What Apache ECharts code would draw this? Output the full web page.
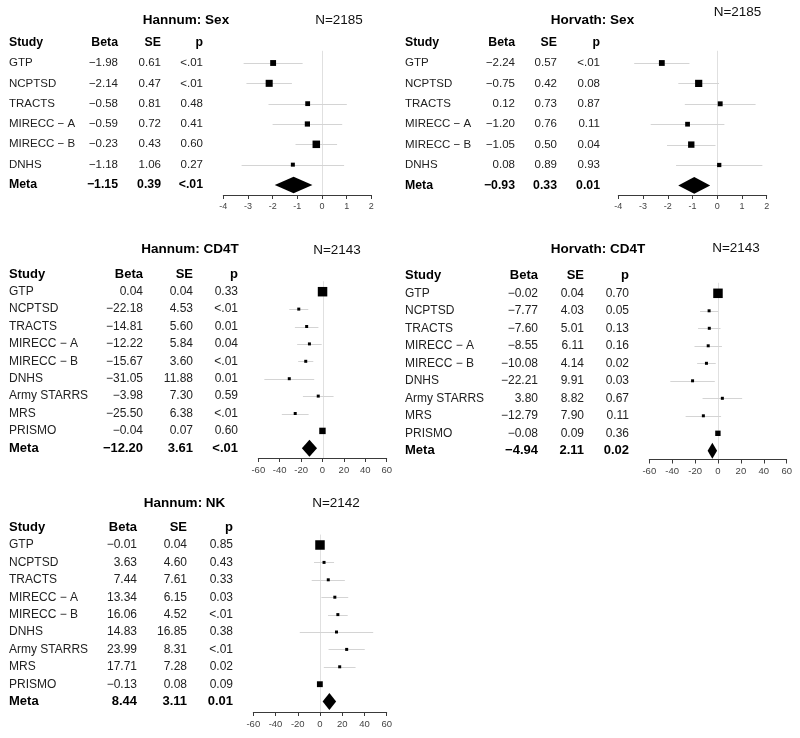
<!DOCTYPE html>
<html><head><meta charset="utf-8">
<script src="https://cdn.jsdelivr.net/npm/echarts@6/dist/echarts.min.js"></script>
<style>html,body{margin:0;padding:0;background:#fff}#c{width:800px;height:738px}</style>
</head><body><div id="c"></div>
<script>
// ---------- data ----------
const sexStudies = ['GTP', 'NCPTSD', 'TRACTS', 'MIRECC − A', 'MIRECC − B', 'DNHS'];
const cellStudies = ['GTP', 'NCPTSD', 'TRACTS', 'MIRECC − A', 'MIRECC − B', 'DNHS', 'Army STARRS', 'MRS', 'PRISMO'];

const sexTicks = [-4, -3, -2, -1, 0, 1, 2];
const cellTicks = [-60, -40, -20, 0, 20, 40, 60];

const hannumSexBeta = [-1.98, -2.14, -0.58, -0.59, -0.23, -1.18];
const hannumSexSE = [0.61, 0.47, 0.81, 0.72, 0.43, 1.06];
const hannumSexP = ['<.01', '<.01', '0.48', '0.41', '0.60', '0.27'];
const hannumSexMeta = [-1.15, 0.39, '<.01'];

const horvathSexBeta = [-2.24, -0.75, 0.12, -1.20, -1.05, 0.08];
const horvathSexSE = [0.57, 0.42, 0.73, 0.76, 0.50, 0.89];
const horvathSexP = ['<.01', '0.08', '0.87', '0.11', '0.04', '0.93'];
const horvathSexMeta = [-0.93, 0.33, '0.01'];

const hannumCD4TBeta = [0.04, -22.18, -14.81, -12.22, -15.67, -31.05, -3.98, -25.50, -0.04];
const hannumCD4TSE = [0.04, 4.53, 5.60, 5.84, 3.60, 11.88, 7.30, 6.38, 0.07];
const hannumCD4TP = ['0.33', '<.01', '0.01', '0.04', '<.01', '0.01', '0.59', '<.01', '0.60'];
const hannumCD4TMeta = [-12.20, 3.61, '<.01'];

const horvathCD4TBeta = [-0.02, -7.77, -7.60, -8.55, -10.08, -22.21, 3.80, -12.79, -0.08];
const horvathCD4TSE = [0.04, 4.03, 5.01, 6.11, 4.14, 9.91, 8.82, 7.90, 0.09];
const horvathCD4TP = ['0.70', '0.05', '0.13', '0.16', '0.02', '0.03', '0.67', '0.11', '0.36'];
const horvathCD4TMeta = [-4.94, 2.11, '0.02'];

const hannumNKBeta = [-0.01, 3.63, 7.44, 13.34, 16.06, 14.83, 23.99, 17.71, -0.13];
const hannumNKSE = [0.04, 4.60, 7.61, 6.15, 4.52, 16.85, 8.31, 7.28, 0.08];
const hannumNKP = ['0.85', '0.43', '0.33', '0.03', '<.01', '0.38', '<.01', '0.02', '0.09'];
const hannumNKMeta = [8.44, 3.11, '0.01'];

const panels = [
  {title: 'Hannum: Sex', n: 'N=2185', studies: sexStudies, beta: hannumSexBeta, se: hannumSexSE, p: hannumSexP, meta: hannumSexMeta, ticks: sexTicks},
  {title: 'Horvath: Sex', n: 'N=2185', studies: sexStudies, beta: horvathSexBeta, se: horvathSexSE, p: horvathSexP, meta: horvathSexMeta, ticks: sexTicks},
  {title: 'Hannum: CD4T', n: 'N=2143', studies: cellStudies, beta: hannumCD4TBeta, se: hannumCD4TSE, p: hannumCD4TP, meta: hannumCD4TMeta, ticks: cellTicks},
  {title: 'Horvath: CD4T', n: 'N=2143', studies: cellStudies, beta: horvathCD4TBeta, se: horvathCD4TSE, p: horvathCD4TP, meta: horvathCD4TMeta, ticks: cellTicks},
  {title: 'Hannum: NK', n: 'N=2142', studies: cellStudies, beta: hannumNKBeta, se: hannumNKSE, p: hannumNKP, meta: hannumNKMeta, ticks: cellTicks}
];

// ---------- layout (pixels) ----------
const layouts = [
  {studyX: 9, betaR: 118, seR: 161, pR: 203, row1: 63, step: 20.33, axL: 223.3, axR: 371.3, axY: 195, tX: 186, tY: 20, nX: 339, nY: 20, fs: 11.5, fb: 12.3, tickFs: 9, maxS: 7.5, dh: 8.3, lm: 7.5},
  {studyX: 405, betaR: 515, seR: 557, pR: 600, row1: 63, step: 20.4, axL: 618.3, axR: 766.7, axY: 195, tX: 592.5, tY: 20, nX: 737.5, nY: 12, fs: 11.5, fb: 12.3, tickFs: 9, maxS: 7.2, dh: 8.3, lm: 7.5},
  {studyX: 9, betaR: 143, seR: 193, pR: 238, row1: 291.7, step: 17.4, axL: 258.3, axR: 386.7, axY: 458, tX: 190, tY: 249, nX: 337, nY: 250, fs: 12, fb: 13, tickFs: 9.5, maxS: 9.5, dh: 8.5, lm: 7},
  {studyX: 405, betaR: 538, seR: 584, pR: 629, row1: 293.3, step: 17.5, axL: 649.3, axR: 786.7, axY: 459.5, tX: 598, tY: 249, nX: 736, nY: 248, fs: 12, fb: 13, tickFs: 9.5, maxS: 9.5, dh: 8, lm: 7},
  {studyX: 9, betaR: 137, seR: 187, pR: 233, row1: 545, step: 17.4, axL: 253.3, axR: 386.7, axY: 712, tX: 184.5, tY: 503, nX: 336, nY: 503, fs: 12, fb: 13, tickFs: 9.5, maxS: 9.5, dh: 8.5, lm: 7}
];

const FONT = '"Liberation Sans", Arial, Helvetica, sans-serif';
const fmt = v => (v < 0 ? '−' : '') + Math.abs(v).toFixed(2);

const chart = echarts.init(document.getElementById('c'), null, {renderer: 'canvas'});

const grid = [], xAxis = [], yAxis = [], series = [];
panels.forEach((P, i) => {
  const L = layouts[i];
  const top = L.row1 - 0.6 * L.step;
  const yMin = 1 + (top - L.row1) / L.step;
  const yMax = 1 + (L.axY - L.row1) / L.step;
  grid.push({left: L.axL, width: L.axR - L.axL, top: top, height: L.axY - top, containLabel: false});
  xAxis.push({
    gridIndex: i, type: 'value', min: P.ticks[0], max: P.ticks[P.ticks.length - 1],
    interval: P.ticks[1] - P.ticks[0], position: 'bottom',
    axisLine: {show: true, onZero: false, lineStyle: {color: '#3a3a3a', width: 1}},
    axisTick: {show: true, length: 4, lineStyle: {color: '#3a3a3a', width: 1}},
    axisLabel: {fontSize: L.tickFs, color: '#444', margin: L.lm, fontFamily: FONT},
    splitLine: {show: false}
  });
  yAxis.push({gridIndex: i, type: 'value', inverse: true, min: yMin, max: yMax, show: false});

  const minSE = Math.min.apply(null, P.se);
  const ciData = P.beta.map((b, k) => [b - 1.96 * P.se[k], b + 1.96 * P.se[k], k + 1]);
  const ptData = P.beta.map((b, k) => [b, k + 1, P.se[k]]);
  const metaRow = P.studies.length + 1;
  const metaData = [[P.meta[0] - 1.96 * P.meta[1], P.meta[0], P.meta[0] + 1.96 * P.meta[1], metaRow]];

  // zero reference line (drawn under everything)
  series.push({
    type: 'custom', xAxisIndex: i, yAxisIndex: i, z: 0, silent: true,
    encode: {x: 0, y: [1, 2]},
    data: [[0, yMin, yMax]],
    renderItem: (params, api) => {
      const a = api.coord([api.value(0), api.value(1)]);
      const b = api.coord([api.value(0), api.value(2)]);
      const x = Math.round(a[0]) + 0.5;
      return {type: 'line', shape: {x1: x, y1: a[1], x2: x, y2: b[1]}, style: {stroke: '#e0e0e0', lineWidth: 1}};
    }
  });
  // confidence intervals
  series.push({
    type: 'custom', xAxisIndex: i, yAxisIndex: i, z: 1, silent: true,
    encode: {x: [0, 1], y: 2},
    data: ciData,
    renderItem: (params, api) => {
      const a = api.coord([api.value(0), api.value(2)]);
      const b = api.coord([api.value(1), api.value(2)]);
      return {type: 'line', shape: {x1: a[0], y1: Math.round(a[1]) + 0.5, x2: b[0], y2: Math.round(b[1]) + 0.5},
        style: {stroke: '#d4d4d4', lineWidth: 1}};
    }
  });
  // squares
  series.push({
    type: 'scatter', xAxisIndex: i, yAxisIndex: i, z: 3, silent: true,
    symbol: 'rect',
    symbolSize: v => Math.max(3, L.maxS * Math.pow(minSE / v[2], 0.7)),
    itemStyle: {color: '#000', opacity: 1},
    data: ptData
  });
  // meta diamond
  series.push({
    type: 'custom', xAxisIndex: i, yAxisIndex: i, z: 4, silent: true,
    encode: {x: [0, 2], y: 3},
    data: metaData,
    renderItem: (params, api) => {
      const lo = api.coord([api.value(0), api.value(3)]);
      const mid = api.coord([api.value(1), api.value(3)]);
      const hi = api.coord([api.value(2), api.value(3)]);
      const h = L.dh;
      return {type: 'polygon', shape: {points: [[lo[0], mid[1]], [mid[0], mid[1] - h], [hi[0], mid[1]], [mid[0], mid[1] + h]]},
        style: {fill: '#000'}};
    }
  });
});

chart.setOption({animation: false, backgroundColor: '#fff', grid, xAxis, yAxis, series});

// ---------- table text ----------
const graphic = [];
function txt(text, x, y, align, size, bold, color) {
  graphic.push({type: 'text', silent: true, style: {
    text: text, x: x, y: y, align: align, verticalAlign: 'middle', textAlign: align, textVerticalAlign: 'middle',
    font: (bold ? 'bold ' : '') + size + 'px ' + FONT, fill: color}});
}
panels.forEach((P, i) => {
  const L = layouts[i];
  const rowY = r => chart.convertToPixel({gridIndex: i}, [0, r])[1];
  txt(P.title, L.tX, L.tY, 'center', 13.5, true, '#000');
  txt(P.n, L.nX, L.nY, 'center', 13.5, false, '#111');
  const hy = rowY(0);
  txt('Study', L.studyX, hy, 'left', L.fb, true, '#000');
  txt('Beta', L.betaR, hy, 'right', L.fb, true, '#000');
  txt('SE', L.seR, hy, 'right', L.fb, true, '#000');
  txt('p', L.pR, hy, 'right', L.fb, true, '#000');
  P.studies.forEach((s, k) => {
    const y = rowY(k + 1);
    txt(s, L.studyX, y, 'left', L.fs, false, '#222');
    txt(fmt(P.beta[k]), L.betaR, y, 'right', L.fs, false, '#222');
    txt(P.se[k].toFixed(2), L.seR, y, 'right', L.fs, false, '#222');
    txt(P.p[k], L.pR, y, 'right', L.fs, false, '#222');
  });
  const my = rowY(P.studies.length + 1);
  txt('Meta', L.studyX, my, 'left', L.fb, true, '#000');
  txt(fmt(P.meta[0]), L.betaR, my, 'right', L.fb, true, '#000');
  txt(P.meta[1].toFixed(2), L.seR, my, 'right', L.fb, true, '#000');
  txt(P.meta[2], L.pR, my, 'right', L.fb, true, '#000');
});
chart.setOption({graphic: graphic});
</script>
</body></html>
